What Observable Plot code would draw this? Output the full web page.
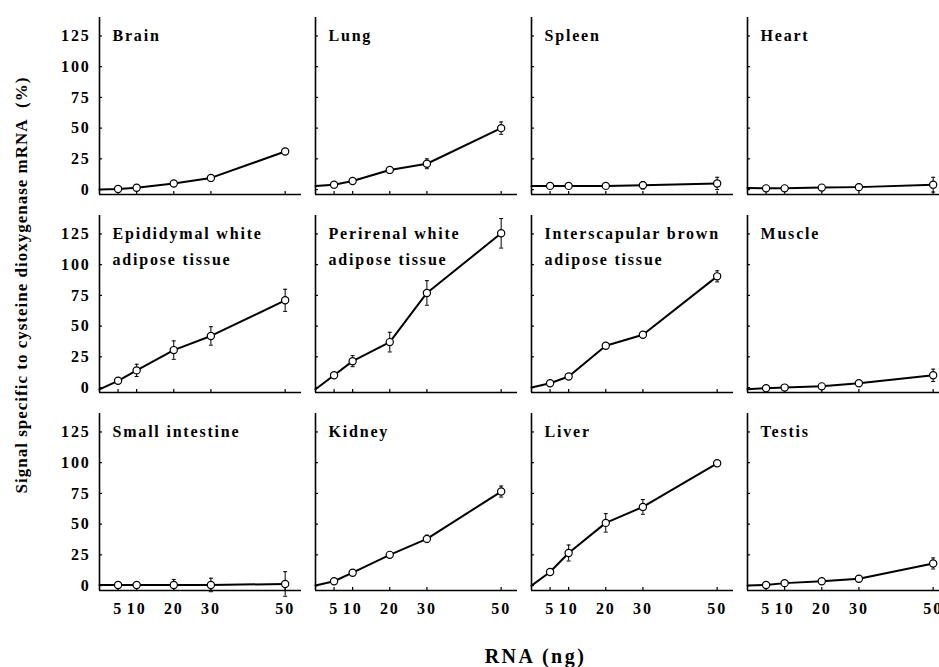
<!DOCTYPE html>
<html><head><meta charset="utf-8">
<script src="https://cdn.jsdelivr.net/npm/d3@7"></script>
<script src="https://cdn.jsdelivr.net/npm/@observablehq/plot@0.6"></script>
<style>
html,body{margin:0;padding:0;background:#fff;overflow:hidden;}
#chart svg{display:block;max-width:none !important;height:667px !important;}
#chart svg text{letter-spacing:1.8px;}
#chart g[aria-label="y-axis tick label"]{font-size:16px;}
#chart g[aria-label="x-axis tick label"]{font-size:16px;}
#chart g[aria-label="y-axis label"]{font-size:17px;}
#chart g[aria-label="y-axis label"] text{letter-spacing:1px;}
#chart g[aria-label="x-axis label"]{font-size:20px;}
#chart g[aria-label="x-axis label"] text{letter-spacing:2.5px;}
</style></head><body><div id="chart"></div>
<script>
// RNA amount (ng); 0 is the line's starting point (no marker)
const doses = [0, 5, 10, 20, 30, 50];
const xTicks = [5, 10, 20, 30, 50];
const yTicks = [0, 25, 50, 75, 100, 125];

const tissues = [
  "Brain", "Lung", "Spleen", "Heart",
  "Epididymal white\nadipose tissue", "Perirenal white\nadipose tissue", "Interscapular brown\nadipose tissue", "Muscle",
  "Small intestine", "Kidney", "Liver", "Testis"
];

const brainMean = [0, 0.5, 1.5, 5, 9.5, 31];
const brainErr = [0, 0.5, 0.5, 1, 1, 1.5];
const lungMean = [3, 4, 7, 16, 21, 50];
const lungErr = [0, 1.5, 1, 2, 4, 5];
const spleenMean = [3, 3, 3, 3, 3.5, 5];
const spleenErr = [0, 0.5, 0.5, 1, 3, 5];
const heartMean = [1.3, 1, 1, 1.6, 2, 4];
const heartErr = [0, 0.5, 0.5, 2, 2.5, 6];
const epididymalMean = [-1.5, 5.5, 14, 30.5, 42, 71];
const epididymalErr = [0, 1.5, 5, 7.5, 7.5, 9];
const perirenalMean = [-1.4, 10, 21.5, 37, 77, 125.5];
const perirenalErr = [0, 2, 4.5, 8, 10, 12];
const interscapularMean = [0, 3.5, 9, 34, 43, 90.5];
const interscapularErr = [0, 1, 1, 1, 1.5, 4.5];
const muscleMean = [-1.4, -0.5, 0, 1, 3.5, 10];
const muscleErr = [0, 1, 1, 1, 2, 5];
const smallIntestineMean = [0.5, 0.5, 0.5, 0.5, 0.5, 1.3];
const smallIntestineErr = [0, 0.5, 0.5, 4.5, 5.5, 10];
const kidneyMean = [0, 3.5, 10.5, 25, 38, 76.5];
const kidneyErr = [0, 1, 1, 1, 3, 4.5];
const liverMean = [0, 11, 26.5, 51, 64, 99.5];
const liverErr = [0, 1.5, 6.5, 7.5, 6, 0];
const testisMean = [0, 0.5, 2, 3.5, 5.5, 18];
const testisErr = [0, 1, 1, 1, 2.5, 4.5];

const means = [brainMean, lungMean, spleenMean, heartMean, epididymalMean, perirenalMean,
  interscapularMean, muscleMean, smallIntestineMean, kidneyMean, liverMean, testisMean];
const errs = [brainErr, lungErr, spleenErr, heartErr, epididymalErr, perirenalErr,
  interscapularErr, muscleErr, smallIntestineErr, kidneyErr, liverErr, testisErr];

const xDomain = [0, 54.4];
const yDomain = [-4, 140];

const rows = tissues.flatMap((t, i) => doses.map((x, j) => ({
  tissue: t, col: i % 4, row: Math.floor(i / 4), x, y: means[i][j], e: errs[i][j]
})));
const titles = tissues.map((t, i) => ({tissue: t, col: i % 4, row: Math.floor(i / 4)}));
const bars = rows.filter(d => d.e > 0);
const pts = rows.filter(d => d.x > 0);

const cap = {draw(ctx, size) { const r = Math.sqrt(size / Math.PI); ctx.moveTo(-r, 0); ctx.lineTo(r, 0); }};
const font = "'Liberation Serif', 'Times New Roman', serif";

const chart = Plot.plot({
  width: 951, height: 667,
  marginLeft: 97, marginRight: 0, marginTop: 16, marginBottom: 75,
  style: {fontFamily: font, fontWeight: "bold", color: "#000", background: "#fff"},
  fx: {axis: null, paddingInner: 0.0645, paddingOuter: 0},
  fy: {axis: null, paddingInner: 0.1055, paddingOuter: 0},
  x: {domain: xDomain},
  y: {domain: yDomain},
  marks: [
    Plot.ruleX([xDomain[0]], {stroke: "#000", strokeWidth: 1.6}),
    Plot.ruleY([yDomain[0]], {stroke: "#000", strokeWidth: 1.6}),
    Plot.axisY({ticks: yTicks, tickSize: -3, tickFormat: () => "", label: null, facetAnchor: null, strokeWidth: 1.2}),
    Plot.axisX({ticks: xTicks, tickSize: -3, tickFormat: () => "", label: null, facetAnchor: null, strokeWidth: 1.2}),
    Plot.axisY({ticks: yTicks, tickSize: 0, tickPadding: 9, fontSize: 16, fontWeight: "bold",
      label: "Signal specific to cysteine dioxygenase mRNA\u00a0 (%)", labelAnchor: "center", labelOffset: 85, labelArrow: "none"}),
    Plot.axisX({ticks: xTicks, tickSize: 0, tickPadding: 12, fontSize: 16, fontWeight: "bold", label: null}),
    Plot.axisX({ticks: [], tickSize: 0, fontSize: 20, fontWeight: "bold", label: "RNA (ng)", labelAnchor: "center", labelOffset: 72, labelArrow: "none"}),
    Plot.line(rows, {x: "x", y: "y", z: "tissue", fx: "col", fy: "row", stroke: "#000", strokeWidth: 2}),
    Plot.ruleX(bars, {x: "x", y1: d => d.y - d.e, y2: d => d.y + d.e, fx: "col", fy: "row", stroke: "#000", strokeWidth: 1}),
    Plot.dot(bars, {x: "x", y: d => d.y + d.e, fx: "col", fy: "row", symbol: cap, r: 2, stroke: "#000", fill: "none", strokeWidth: 1}),
    Plot.dot(bars, {x: "x", y: d => d.y - d.e, fx: "col", fy: "row", symbol: cap, r: 2, stroke: "#000", fill: "none", strokeWidth: 1}),
    Plot.dot(pts, {x: "x", y: "y", fx: "col", fy: "row", r: 3.6, fill: "#fff", stroke: "#000", strokeWidth: 1.2}),
    Plot.text(titles, {fx: "col", fy: "row", text: "tissue", frameAnchor: "top-left", textAnchor: "start", lineAnchor: "top",
      dx: 13, dy: 5, fontSize: 16, fontWeight: "bold", lineHeight: 1.625, fill: "#000"})
  ]
});
document.getElementById("chart").append(chart);

// nudge the shared axis titles to where the reference has them
const svg = d3.select(chart);
const shift = (sel, tx, ty) => sel.attr("transform", (_, i, n) => `translate(${tx},${ty}) ` + (n[i].getAttribute("transform") || ""));
shift(svg.selectAll('g[aria-label="y-axis label"]'), 0, -19);
shift(svg.selectAll('g[aria-label="x-axis label"]'), 11, 0);
</script></body></html>
